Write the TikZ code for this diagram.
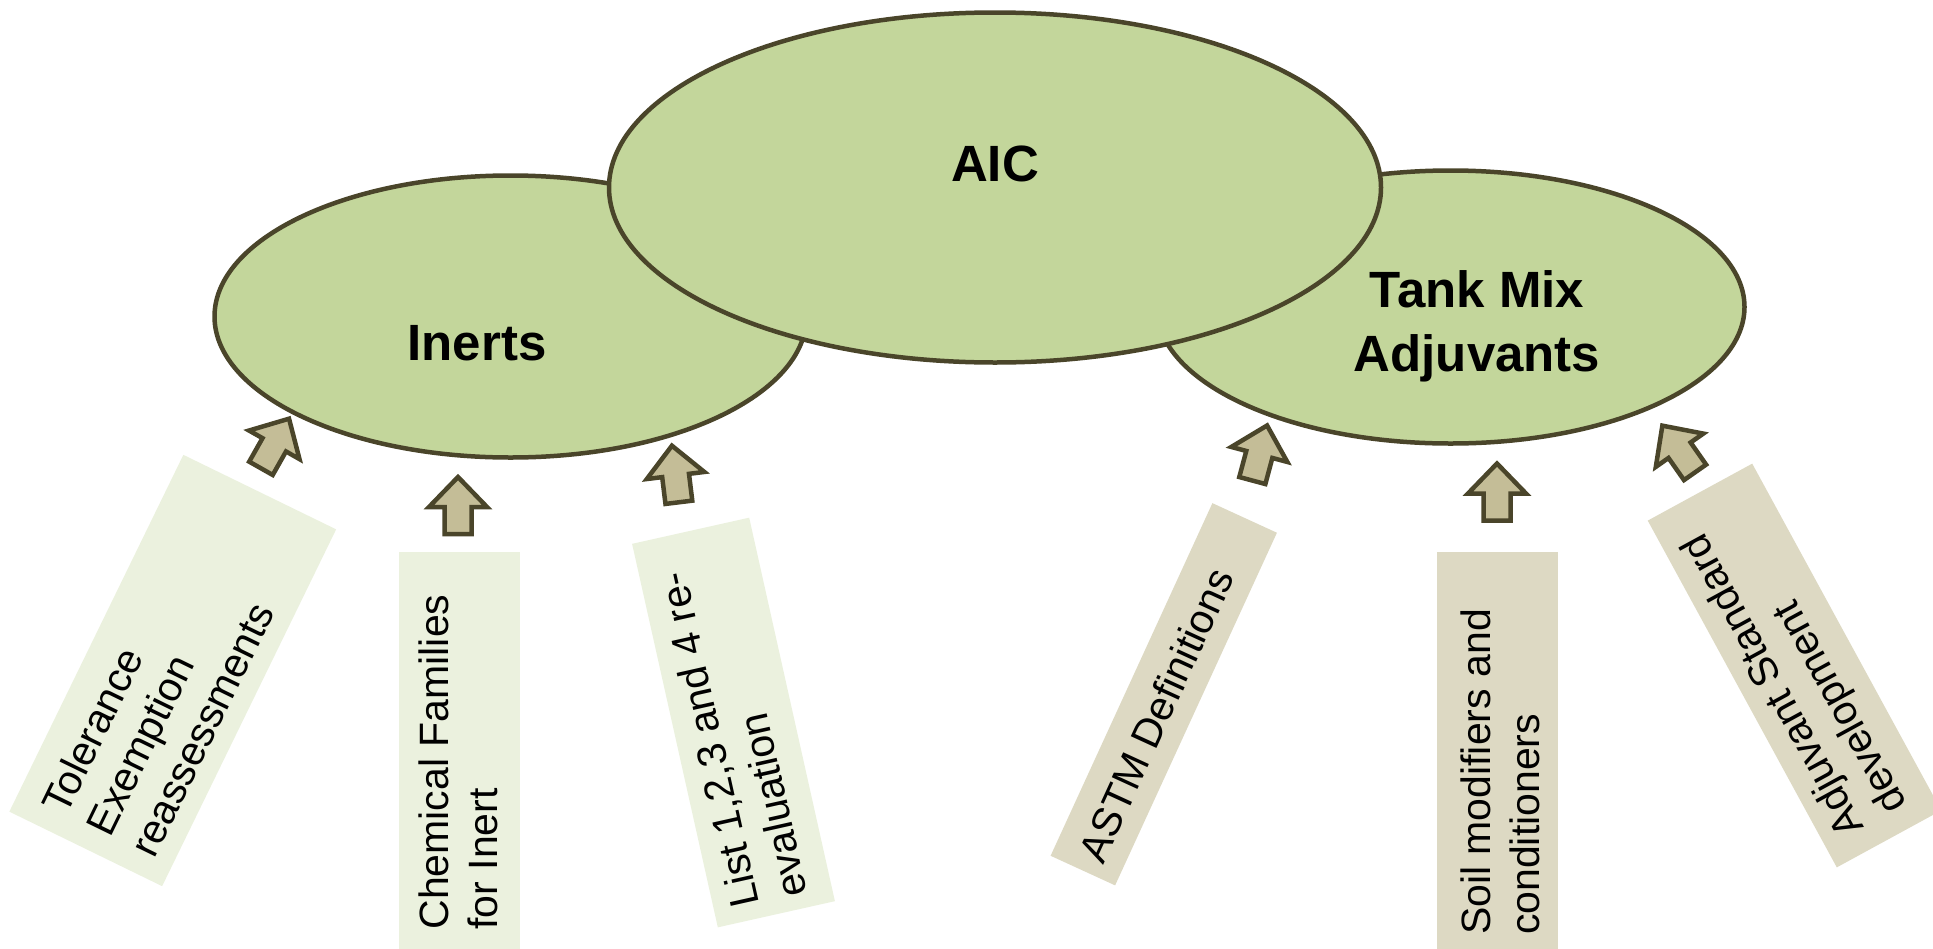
\documentclass[tikz,border=0pt]{standalone}
\usepackage{fontspec}
\setmainfont{Liberation Sans}
\usetikzlibrary{shapes.geometric}
\definecolor{ellfill}{HTML}{C3D69B}
\definecolor{edgecol}{HTML}{4A452A}
\definecolor{arrfill}{HTML}{C4BD97}
\definecolor{greenbox}{HTML}{EBF1DE}
\definecolor{tanbox}{HTML}{DDD9C3}
\begin{document}
\begin{tikzpicture}[x=1pt,y=-1pt,
  bubble/.style={ellipse, draw=edgecol, line width=4.5pt, fill=ellfill, inner sep=0pt},
  bubbletext/.style={font=\fontsize{51}{64}\selectfont\bfseries, align=center, inner sep=0pt},
  greenpanel/.style={rectangle, fill=greenbox, inner sep=0pt},
  tanpanel/.style={rectangle, fill=tanbox, inner sep=0pt},
  paneltext/.style={font=\fontsize{41}{49}\selectfont, align=left, inner sep=0pt},
  blockarrow/.style={draw=edgecol, fill=arrfill, line width=4.5pt, line join=miter}
]
\useasboundingbox (0,0) rectangle (1933,948);
\clip (0,0) rectangle (1933,948);

% panels
\node[greenpanel, minimum width=397pt, minimum height=170pt, rotate=64] (tolBox) at (172.75,670.5) {};
\node[greenpanel, minimum width=420pt, minimum height=121pt, rotate=90] (chemBox) at (459.5,762) {};
\node[greenpanel, minimum width=393pt, minimum height=120pt, rotate=102.6] (listBox) at (733.5,722.5) {};
\node[tanpanel, minimum width=388pt, minimum height=71pt, rotate=65.35] (astmBox) at (1163.75,694.25) {};
\node[tanpanel, minimum width=420pt, minimum height=121pt, rotate=90] (soilBox) at (1497,762) {};
\node[tanpanel, minimum width=395pt, minimum height=119pt, rotate=118.6] (adjBox) at (1794.5,665.5) {};

\node[paneltext, rotate=64] (tolTxt) at (158,708) {Tolerance\\Exemption\\reassessments};
\node[paneltext, rotate=90] (chemTxt) at (458,762) {Chemical Families\\for Inert};
\node[paneltext, rotate=102.6] (listTxt) at (732,735) {List 1,2,3 and 4 re-\\evaluation};
\node[paneltext, rotate=65.35] (astmTxt) at (1156,715) {ASTM Definitions};
\node[paneltext, rotate=90] (soilTxt) at (1500,772) {Soil modifiers and\\conditioners};
\node[paneltext, rotate=118.6] (adjTxt) at (1796,673) {Adjuvant Standard\\development};

% bubbles
\node[bubble, minimum width=592pt, minimum height=282pt] (inerts) at (510.5,316.5) {};
\node[bubble, minimum width=588pt, minimum height=273pt] (tank) at (1450.5,307) {};
\node[bubble, minimum width=772pt, minimum height=350pt] (aic) at (995,187.5) {};
\node[bubbletext] (aicTxt) at (995,164) {AIC};
\node[bubbletext] (inertsTxt) at (477,343) {Inerts};
\node[bubbletext] (tankTxt) at (1477,326) {Tank Mix\\Adjuvants};

% block arrows
\foreach \cx/\cy/\ang in {275/443.5/-29.5, 458/505.5/0, 675.4/474/7, 1259.7/453/-15, 1497/492/0, 1678.7/449/35}{
  \draw[blockarrow, shift={(\cx,\cy)}, rotate=\ang]
    (0,-28.5) -- (29,1.5) -- (13.5,1.5) -- (13.5,28.5) -- (-13.5,28.5) -- (-13.5,1.5) -- (-29,1.5) -- cycle;
}
\end{tikzpicture}
\end{document}
